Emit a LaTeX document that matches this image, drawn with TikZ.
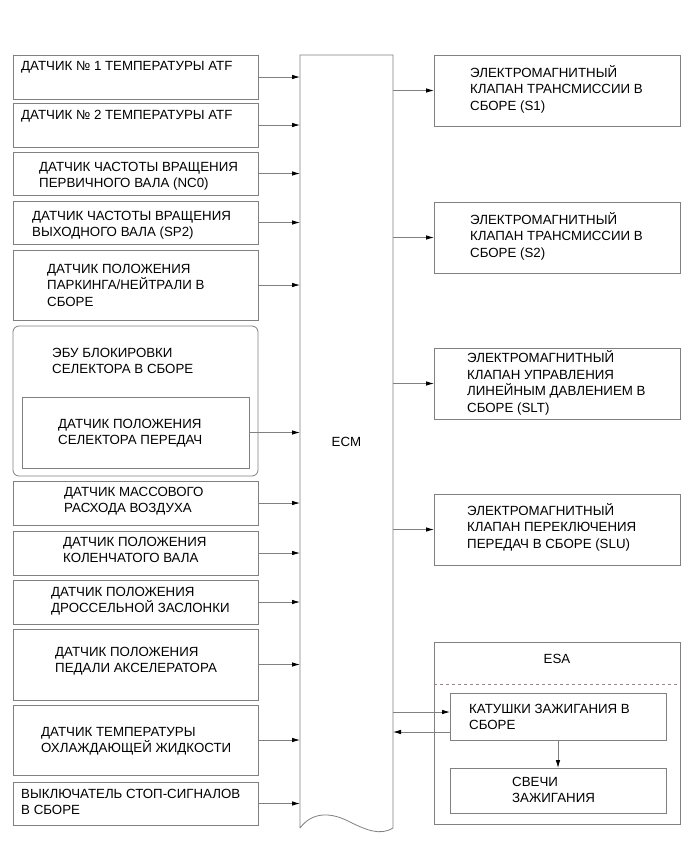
\documentclass[tikz,border=0pt]{standalone}
\usepackage{fontspec}
\setmainfont{Liberation Sans}
\usetikzlibrary{positioning,arrows.meta}
\definecolor{framegray}{RGB}{128,128,128}
\definecolor{dashred}{RGB}{175,125,125}
\tikzset{
  blk/.style={draw=framegray, line width=0.8pt, inner sep=0pt, outer sep=0pt, anchor=north west},
  sensor/.style={blk, minimum width=245pt},
  valve/.style={blk, minimum width=246pt, minimum height=71pt},
  txt/.style={anchor=west, align=left, inner sep=0pt, font=\fontsize{13.3}{16.5}\selectfont},
  sig/.style={draw=framegray, line width=0.8pt, -{Latex[length=8pt,width=4.5pt,color=black]}}
}

\begin{document}
\begin{tikzpicture}[x=1pt,y=-1pt]
\useasboundingbox (0,0) rectangle (691,855);

% ECM
\node[blk, draw=none, minimum width=93pt, minimum height=773pt, font=\fontsize{13.3}{16.5}\selectfont] (ecm) at (300,55) {ECM};
\draw[framegray, line width=0.8pt] (ecm.south west) -- (ecm.north west) -- (ecm.north east) -- (ecm.south east)
  .. controls (380,836) and (366,830) .. (348,821) .. controls (330,812) and (312,812) .. (ecm.south west);

% inputs
\node[sensor, minimum height=44pt] (atf1) at (13,55) {};
\node[txt] at (21,67) {ДАТЧИК № 1 ТЕМПЕРАТУРЫ ATF};
\node[sensor, minimum height=44pt] (atf2) at (13,103) {};
\node[txt] at (21,116) {ДАТЧИК № 2 ТЕМПЕРАТУРЫ ATF};
\node[sensor, minimum height=43pt] (nc0) at (13,152) {};
\node[txt] at (39,176) {ДАТЧИК ЧАСТОТЫ ВРАЩЕНИЯ\\ПЕРВИЧНОГО ВАЛА (NC0)};
\node[sensor, minimum height=43pt] (sp2) at (13,201) {};
\node[txt] at (32,225) {ДАТЧИК ЧАСТОТЫ ВРАЩЕНИЯ\\ВЫХОДНОГО ВАЛА (SP2)};
\node[sensor, minimum height=70pt] (pnp) at (13,250) {};
\node[txt] at (47,285) {ДАТЧИК ПОЛОЖЕНИЯ\\ПАРКИНГА/НЕЙТРАЛИ В\\СБОРЕ};
\node[sensor, rounded corners=6pt, minimum height=150pt] (ebu) at (13,326) {};
\node[txt] at (52,361) {ЭБУ БЛОКИРОВКИ\\СЕЛЕКТОРА В СБОРЕ};
\node[blk, minimum width=227pt, minimum height=71pt] (sel) at (22,397) {};
\node[txt] at (58,433) {ДАТЧИК ПОЛОЖЕНИЯ\\СЕЛЕКТОРА ПЕРЕДАЧ};
\node[sensor, minimum height=44pt] (maf) at (13,481) {};
\node[txt] at (64,501) {ДАТЧИК МАССОВОГО\\РАСХОДА ВОЗДУХА};
\node[sensor, minimum height=44pt] (ckp) at (13,531) {};
\node[txt] at (63,550) {ДАТЧИК ПОЛОЖЕНИЯ\\КОЛЕНЧАТОГО ВАЛА};
\node[sensor, minimum height=44pt] (tps) at (13,580) {};
\node[txt] at (51,601) {ДАТЧИК ПОЛОЖЕНИЯ\\ДРОССЕЛЬНОЙ ЗАСЛОНКИ};
\node[sensor, minimum height=71pt] (app) at (13,629) {};
\node[txt] at (55,661) {ДАТЧИК ПОЛОЖЕНИЯ\\ПЕДАЛИ АКСЕЛЕРАТОРА};
\node[sensor, minimum height=70pt] (ect) at (13,705) {};
\node[txt] at (41,741) {ДАТЧИК ТЕМПЕРАТУРЫ\\ОХЛАЖДАЮЩЕЙ ЖИДКОСТИ};
\node[sensor, minimum height=43pt] (stop) at (13,782) {};
\node[txt] at (21,802) {ВЫКЛЮЧАТЕЛЬ СТОП-СИГНАЛОВ\\В СБОРЕ};

\foreach \src in {atf1,atf2,nc0,sp2,pnp,sel,maf,ckp,tps,app,ect,stop}
  \draw[sig] (\src.east) -- (\src.east -| ecm.west);

% outputs
\node[valve] (s1) at (434,55) {};
\node[txt] at (470,89) {ЭЛЕКТРОМАГНИТНЫЙ\\КЛАПАН ТРАНСМИССИИ В\\СБОРЕ (S1)};
\node[valve] (s2) at (434,202) {};
\node[txt] at (470,236) {ЭЛЕКТРОМАГНИТНЫЙ\\КЛАПАН ТРАНСМИССИИ В\\СБОРЕ (S2)};
\node[valve] (slt) at (434,348) {};
\node[txt] at (467,383) {ЭЛЕКТРОМАГНИТНЫЙ\\КЛАПАН УПРАВЛЕНИЯ\\ЛИНЕЙНЫМ ДАВЛЕНИЕМ В\\СБОРЕ (SLT)};
\node[valve] (slu) at (434,494) {};
\node[txt] at (467,527) {ЭЛЕКТРОМАГНИТНЫЙ\\КЛАПАН ПЕРЕКЛЮЧЕНИЯ\\ПЕРЕДАЧ В СБОРЕ (SLU)};

\foreach \dst in {s1,s2,slt,slu}
  \draw[sig] (\dst.west -| ecm.east) -- (\dst.west);

% ESA
\node[valve, minimum height=182pt] (esa) at (434,642) {};
\node[txt, anchor=center] at (557,659) {ESA};
\draw[dashred, dashed, line width=0.6pt] ([yshift=-42pt]esa.north west) -- ([yshift=-42pt]esa.north east);
\node[blk, minimum width=216pt, minimum height=47pt] (coil) at (450,693) {};
\node[txt] at (469,717) {КАТУШКИ ЗАЖИГАНИЯ В\\СБОРЕ};
\node[blk, minimum width=216pt, minimum height=45pt] (plug) at (450,768) {};
\node[txt] at (512,790) {СВЕЧИ\\ЗАЖИГАНИЯ};

\draw[sig] ([yshift=4.5pt]coil.west -| ecm.east) -- ([yshift=4.5pt]coil.west);
\draw[sig] ([yshift=-15.5pt]coil.west) -- ([yshift=-15.5pt]coil.west -| ecm.east);
\draw[sig] (coil.south) -- (plug.north);

\end{tikzpicture}
\end{document}
